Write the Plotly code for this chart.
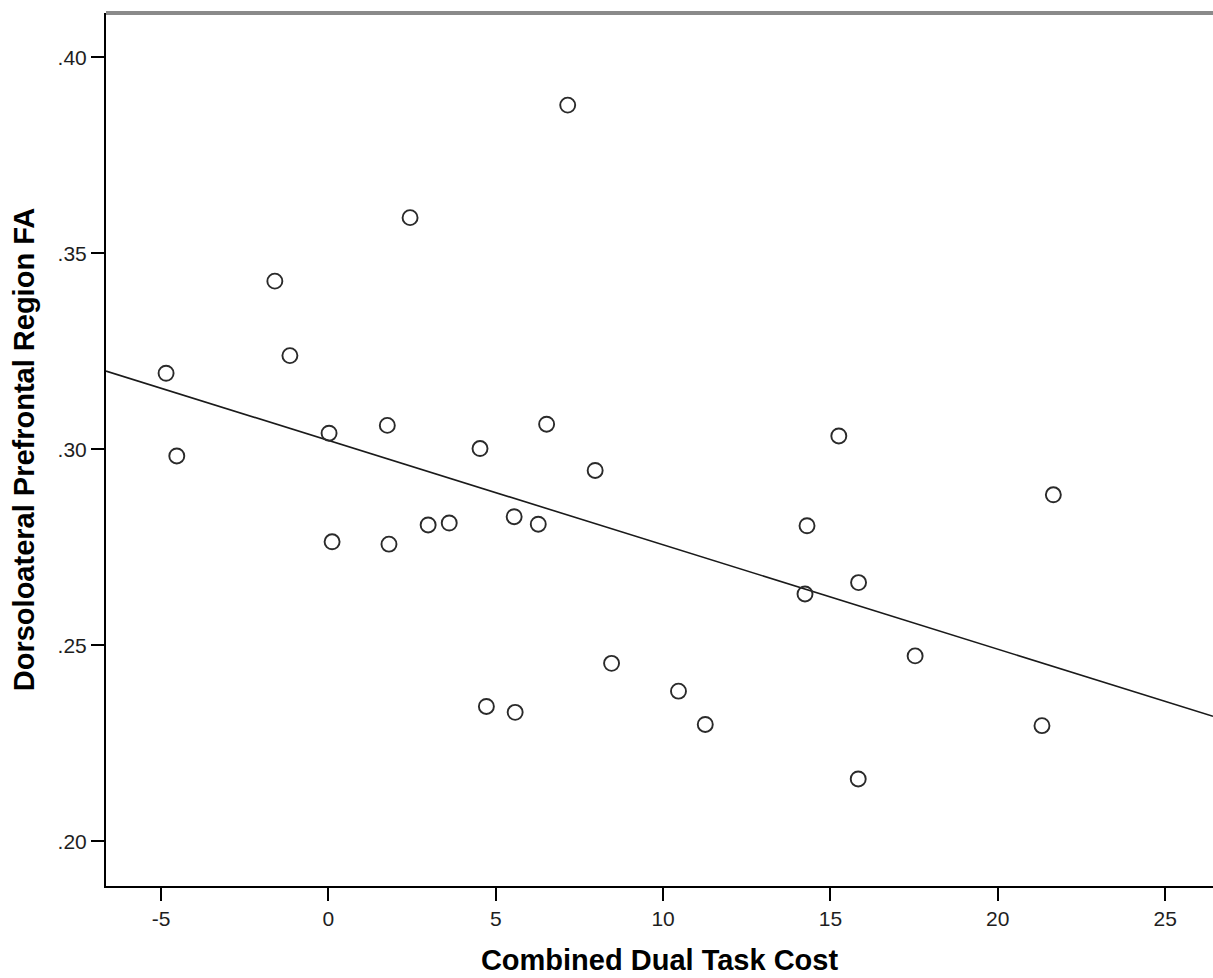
import numpy as np
import plotly.graph_objects as go

# ---- data ----
dual_task_cost = [7.15, 2.44, -1.60, -1.15, -4.85, -4.53, 0.02, 1.76, 4.53, 6.52,
                  7.97, 0.11, 1.81, 2.98, 3.61, 5.55, 6.27, 8.46, 4.72, 5.58,
                  15.25, 21.66, 14.30, 15.84, 14.24, 17.53, 10.46, 11.26, 21.32, 15.83]
dlpfc_fa = [0.3878, 0.3591, 0.3429, 0.3239, 0.3194, 0.2983, 0.3041, 0.3061, 0.3002, 0.3064,
            0.2946, 0.2764, 0.2758, 0.2807, 0.2812, 0.2828, 0.2809, 0.2454, 0.2344, 0.2329,
            0.3034, 0.2884, 0.2805, 0.2660, 0.2631, 0.2473, 0.2383, 0.2298, 0.2295, 0.2159]

x_tick_vals = [-5, 0, 5, 10, 15, 20, 25]
x_tick_text = ["-5", "0", "5", "10", "15", "20", "25"]
y_tick_vals = [0.20, 0.25, 0.30, 0.35, 0.40]
y_tick_text = [".20", ".25", ".30", ".35", ".40"]

x_range = [-6.645, 26.43]
y_range = [0.1886, 0.4113]

x_title = "Combined Dual Task Cost"
y_title = "Dorsoloateral Prefrontal Region FA"

# linear fit (as in the SPSS fit line)
slope, intercept = np.polyfit(dual_task_cost, dlpfc_fa, 1)
fit_x = np.array(x_range)
fit_y = intercept + slope * fit_x

fig = go.Figure()
fig.add_trace(go.Scatter(
    x=fit_x, y=fit_y, mode="lines",
    line=dict(color="#1a1a1a", width=1.6),
    hoverinfo="skip", showlegend=False,
))
fig.add_trace(go.Scatter(
    x=dual_task_cost, y=dlpfc_fa, mode="markers",
    marker=dict(symbol="circle-open", size=15, color="#2a2a2a",
                line=dict(width=1.9, color="#2a2a2a")),
    showlegend=False,
))

tick_font = dict(family="Liberation Sans, Arial, sans-serif", size=21, color="#1e1e1e")
title_font = dict(family="Liberation Sans, Arial, sans-serif", size=29, color="#000000")

fig.update_layout(
    width=1213, height=978,
    margin=dict(l=106, r=0, t=13, b=92, autoexpand=False),
    paper_bgcolor="white", plot_bgcolor="white",
    xaxis=dict(
        range=x_range, tickmode="array", tickvals=x_tick_vals, ticktext=x_tick_text,
        showgrid=False, zeroline=False,
        showline=True, linecolor="#000000", linewidth=2,
        ticks="outside", ticklen=13, tickwidth=2, tickcolor="#000000",
        tickfont=tick_font,
        title=dict(text="<b>" + x_title + "</b>", font=title_font, standoff=20),
        automargin=False,
    ),
    yaxis=dict(
        range=y_range, tickmode="array", tickvals=y_tick_vals, ticktext=y_tick_text,
        showgrid=False, zeroline=False,
        showline=True, linecolor="#000000", linewidth=2,
        ticks="outside", ticklen=13, tickwidth=2, tickcolor="#000000",
        tickfont=tick_font,
        title=dict(text="<b>" + y_title + "</b>", font=title_font, standoff=14),
        automargin=False,
    ),
    shapes=[dict(type="line", xref="paper", yref="paper", x0=0, x1=1, y0=1, y1=1,
                 line=dict(color="#8a8a8a", width=4))],
)

fig.write_html(
    "out.html",
    config={"displayModeBar": False},
    post_script="document.body.style.margin='0';document.body.style.overflow='hidden';",
)
